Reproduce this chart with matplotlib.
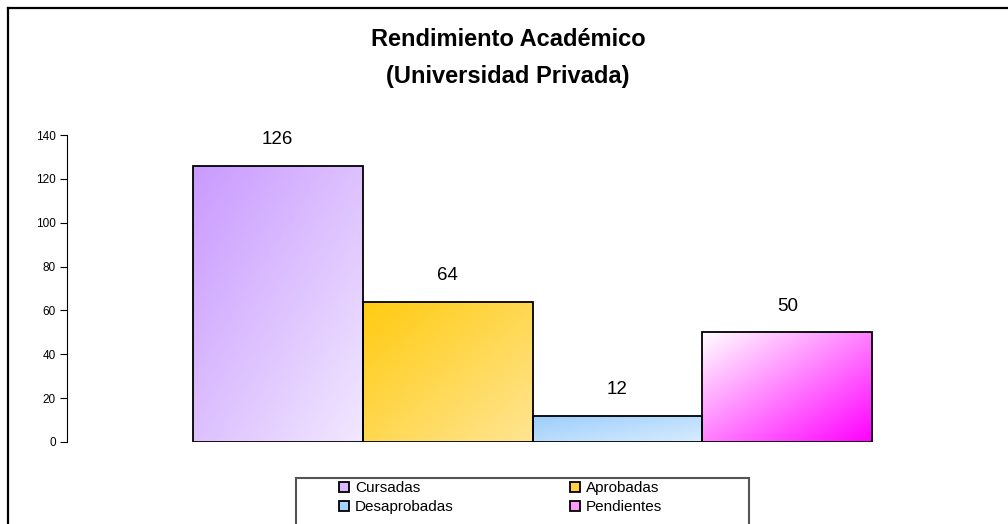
import numpy as np
import matplotlib.pyplot as plt
from matplotlib.lines import Line2D
from matplotlib.patches import Rectangle

plt.rcParams['font.family'] = ['Liberation Sans', 'DejaVu Sans']

# data
series = ["Cursadas", "Aprobadas", "Desaprobadas", "Pendientes"]
values = [126, 64, 12, 50]
yticks = [0, 20, 40, 60, 80, 100, 120, 140]

# gradient colours: (top-left, bottom-right)
grad_colors = [
    ("#c99aff", "#f1e8ff"),
    ("#ffcb10", "#ffe592"),
    ("#9ccdfb", "#d8ecff"),
    ("#ffffff", "#ff00ff"),
]
legend_colors = ["#d9b8ff", "#ffd040", "#a8d2ff", "#ff99ff"]

W, H = 1008, 524
fig = plt.figure(figsize=(W / 100, H / 100), dpi=100)
ax = fig.add_axes([67 / W, 82 / H, 931 / W, 307 / H])

x = np.arange(len(values))
bars = ax.bar(x, values, width=1.0, color="none", edgecolor="black", linewidth=1.3, zorder=3)


def hex2rgb(h):
    h = h.lstrip("#")
    return np.array([int(h[i:i + 2], 16) / 255 for i in (0, 2, 4)])


# diagonal gradient fill, clipped to each bar
for b, (c0, c1) in zip(bars, grad_colors):
    x0, w, h = b.get_x(), b.get_width(), b.get_height()
    n = 100
    gx, gy = np.meshgrid(np.linspace(0, 1, n), np.linspace(0, 1, n))
    t = (gx + gy) / 2  # 0 at top-left, 1 at bottom-right
    img = hex2rgb(c0)[None, None, :] * (1 - t[..., None]) + hex2rgb(c1)[None, None, :] * t[..., None]
    im = ax.imshow(img, extent=(x0, x0 + w, 0, h), origin="upper", aspect="auto", zorder=2)
    im.set_clip_path(b)

for b, v in zip(bars, values):
    ax.annotate(str(v), (b.get_x() + b.get_width() / 2, b.get_height()),
                xytext=(0, 26), textcoords="offset pixels",
                ha="center", va="center", fontsize=13.5)

ax.set_xlim(-1.24, 4.24)
ax.set_ylim(0, 140)
ax.set_yticks(yticks)
ax.tick_params(axis="y", labelsize=8.5, length=5, width=0.8, pad=3)
ax.set_xticks([])
for s in ["top", "right", "bottom"]:
    ax.spines[s].set_visible(False)
ax.spines["left"].set_linewidth(0.8)

fig.text(508 / W, 1 - 40 / H, "Rendimiento Académico", ha="center", va="center",
         fontsize=17, fontweight="bold")
fig.text(508 / W, 1 - 76 / H, "(Universidad Privada)", ha="center", va="center",
         fontsize=17, fontweight="bold")

# legend (row-wise order: matplotlib fills columns first)
order = [0, 2, 1, 3]
handles = [Line2D([], [], marker="s", linestyle="none", markersize=7,
                  markerfacecolor=legend_colors[i], markeredgecolor="black", markeredgewidth=1.3)
           for i in order]
labels = [series[i] for i in order]
fig.add_artist(Rectangle((296 / W, -0.05), (749 - 296) / W, (1 - 478 / H) + 0.05,
                         transform=fig.transFigure, facecolor="white",
                         edgecolor="#555555", linewidth=1.5))
leg = fig.legend(handles, labels, ncol=2, loc="upper left",
                 bbox_to_anchor=(339 / W, 1 - 481 / H), borderaxespad=0,
                 fontsize=11, frameon=False, borderpad=0,
                 handlelength=0.7, handletextpad=0.35, columnspacing=7.6,
                 labelspacing=0.35)

# outer chart border (top and left visible)
fig.add_artist(Line2D([8 / W, 1.0], [1 - 8 / H, 1 - 8 / H], color="black", linewidth=1.6,
                      transform=fig.transFigure))
fig.add_artist(Line2D([8 / W, 8 / W], [1 - 8 / H, 0], color="black", linewidth=1.6,
                      transform=fig.transFigure))

fig.savefig("out.png", dpi=100)
